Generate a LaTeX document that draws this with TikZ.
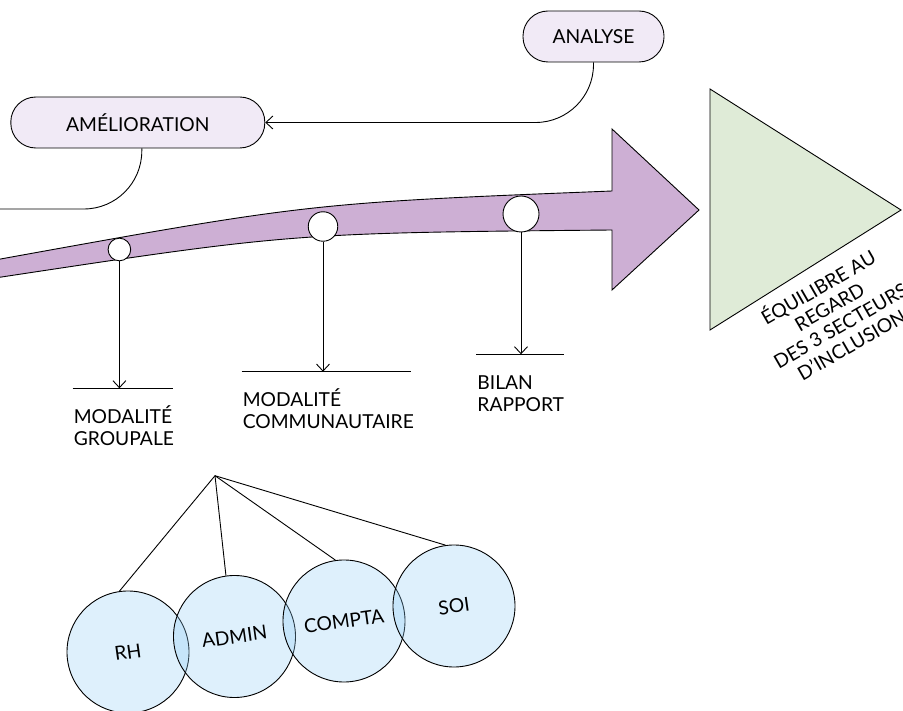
\documentclass[tikz,border=0pt]{standalone}
\usepackage{fontspec}
\setmainfont{Lato}
\usetikzlibrary{shapes,positioning,arrows.meta}

\definecolor{pillfill}{RGB}{241,234,246}
\definecolor{arrowfill}{RGB}{205,175,212}
\definecolor{trianglefill}{RGB}{223,235,215}
\definecolor{sectorfill}{RGB}{145,205,245}

\begin{document}
\begin{tikzpicture}[x=1pt, y=-1pt, line width=0.9pt,
    font=\fontsize{19.25}{22}\selectfont]

        % Styles for the boxes, the stops on the arrow and the sectors
        \tikzset{
            pill/.style={draw, fill=pillfill, rounded corners=25pt,
                minimum height=51pt, inner sep=0pt},
            stop/.style={circle, draw, fill=white, inner sep=0pt},
            sector/.style={circle, draw, fill=sectorfill, fill opacity=0.3,
                text opacity=1, minimum size=122pt, inner sep=0pt, rotate=8},
            modtext/.style={align=left, anchor=base west, inner sep=0pt},
            tip/.style={-{Straight Barb[length=7pt,width=13pt]}},
        }

        \useasboundingbox (0,0) rectangle (903,711);

        % Big arrow and the triangle
        \draw[fill=arrowfill] (-5,260) .. controls (310,203) .. (612,191)
            -- (612,129) -- (699,210) -- (612,290) -- (612,230)
            .. controls (292,233) .. (-5,278) -- cycle;
        \draw[fill=trianglefill] (710,89) -- (901,210) -- (710,330) -- cycle;
        % base anchor sits on the last line
        \node[rotate=30, align=center, inner sep=0pt, anchor=base] (balance)
            at (855,351) {ÉQUILIBRE AU\\REGARD\\DES 3 SECTEURS\\D'INCLUSION};

        % Loop between the two boxes
        \node[pill, minimum width=254pt] (amelioration) at (137.8,122.5) {AMÉLIORATION};
        \node[pill, minimum width=141pt] (analyse) at (593.5,36.5) {ANALYSE};
        \coordinate (loopend) at (0,209);
        \draw[tip, rounded corners=58pt] (analyse.south) |- (amelioration.east);
        \draw[rounded corners=58pt] ([xshift=4pt]amelioration.south) |- (loopend);

        % Stops on the arrow
        \node[stop, minimum size=22.6pt] (stop1) at (119.4,249.5) {};
        \node[stop, minimum size=29.5pt] (stop2) at (323,226.5) {};
        \node[stop, minimum size=36pt] (stop3) at (521,214) {};

        \coordinate (bar1l) at (72.7,388.3);
        \coordinate (bar1r) at (172.7,388.3);
        \coordinate (bar2l) at (241.7,371.7);
        \coordinate (bar2r) at (411,371.7);
        \coordinate (bar3l) at (476,354.3);
        \coordinate (bar3r) at (564,354.3);

        \begin{scope}
            \draw (bar1l) -- (bar1r);
            \draw (bar2l) -- (bar2r);
            \draw (bar3l) -- (bar3r);
            \draw[tip] (stop1.south) -- (stop1.south |- bar1l);
            \draw[tip] (stop2.south) -- (stop2.south |- bar2l);
            \draw[tip] (stop3.south) -- (stop3.south |- bar3l);
        \end{scope}

        % base anchor sits on the second line
        \node[modtext] (groupale) at (73.3,446) {MODALITÉ\\GROUPALE};
        \node[modtext] (communautaire) at (242.3,428.3) {MODALITÉ\\COMMUNAUTAIRE};
        \node[modtext] (bilan) at (477,411.3) {BILAN\\RAPPORT};

        % Sectors hanging from one point
        \coordinate (apex) at (215,475.7);
        \node[sector] (rh) at (128,652) {RH};
        \node[sector] (admin) at (234.5,636.5) {ADMIN};
        \node[sector] (compta) at (344,621) {COMPTA};
        \node[sector] (soi) at (454,606) {SOI};
        \foreach \s in {rh,admin,compta,soi}
            \draw (apex) -- (\s.north);

\end{tikzpicture}
\end{document}
